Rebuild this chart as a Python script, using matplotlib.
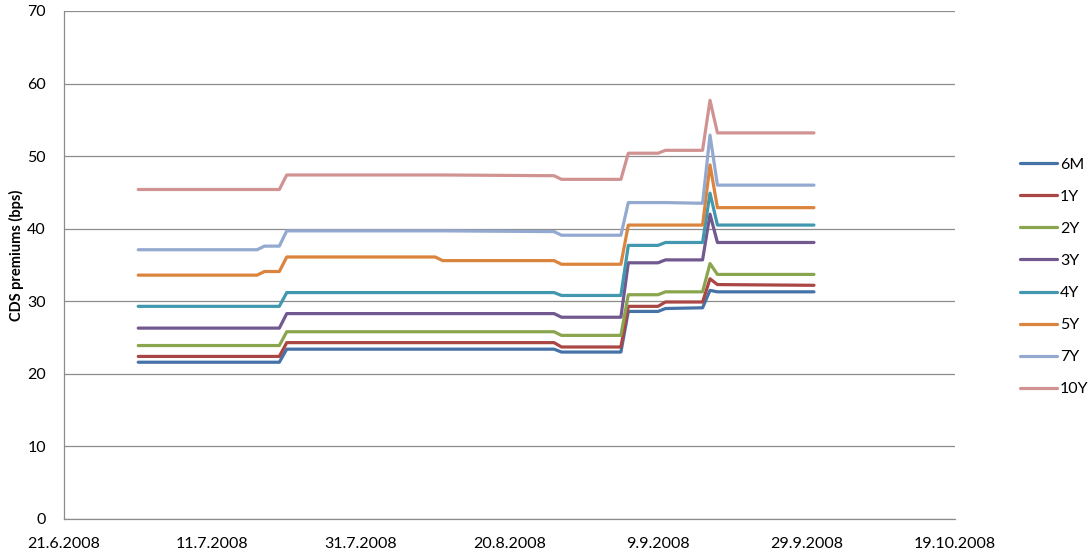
import matplotlib
matplotlib.use('Agg')
import matplotlib.pyplot as plt
from datetime import datetime

# observation dates where the curves change level (2008)
dates = ['1.7', '17.7', '18.7', '20.7', '21.7', '10.8', '11.8', '26.8', '27.8',
         '4.9', '5.9', '9.9', '10.9', '15.9', '16.9', '17.9', '30.9']

s6m = [21.6, 21.6, 21.6, 21.6, 23.4, 23.4, 23.4, 23.4, 23.0, 23.0, 28.6, 28.6, 29.0, 29.1, 31.5, 31.3, 31.3]
s1y = [22.4, 22.4, 22.4, 22.4, 24.3, 24.3, 24.3, 24.3, 23.7, 23.7, 29.3, 29.3, 29.9, 29.9, 33.1, 32.3, 32.2]
s2y = [23.9, 23.9, 23.9, 23.9, 25.8, 25.8, 25.8, 25.8, 25.3, 25.3, 30.9, 30.9, 31.3, 31.3, 35.2, 33.7, 33.7]
s3y = [26.3, 26.3, 26.3, 26.3, 28.3, 28.3, 28.3, 28.3, 27.8, 27.8, 35.3, 35.3, 35.7, 35.7, 42.0, 38.1, 38.1]
s4y = [29.3, 29.3, 29.3, 29.3, 31.2, 31.2, 31.2, 31.2, 30.8, 30.8, 37.7, 37.7, 38.1, 38.1, 44.9, 40.5, 40.5]
s5y = [33.6, 33.6, 34.1, 34.1, 36.1, 36.1, 35.6, 35.6, 35.1, 35.1, 40.5, 40.5, 40.5, 40.5, 48.8, 42.9, 42.9]
s7y = [37.1, 37.1, 37.6, 37.6, 39.7, 39.7, 39.7, 39.6, 39.1, 39.1, 43.6, 43.6, 43.6, 43.5, 52.9, 46.0, 46.0]
s10y = [45.4, 45.4, 45.4, 45.4, 47.4, 47.4, 47.4, 47.3, 46.8, 46.8, 50.4, 50.4, 50.8, 50.8, 57.7, 53.2, 53.2]

labels = ['6M', '1Y', '2Y', '3Y', '4Y', '5Y', '7Y', '10Y']
colors = ['#4572A7', '#AA4643', '#89A54E', '#71588F', '#4198AF', '#DB843D', '#93A9CF', '#D19392']
x_ticks = ['21.6.2008', '11.7.2008', '31.7.2008', '20.8.2008', '9.9.2008', '29.9.2008', '19.10.2008']

plt.rcParams['font.family'] = ['Lato', 'DejaVu Sans']

x = [datetime.strptime(d + '.2008', '%d.%m.%Y') for d in dates]
ticks = [datetime.strptime(t, '%d.%m.%Y') for t in x_ticks]

fig = plt.figure(figsize=(10.88, 5.54), dpi=100)
ax = fig.add_axes([0.0588, 0.0632, 0.8190, 0.9170])

for series, lab, col in zip([s6m, s1y, s2y, s3y, s4y, s5y, s7y, s10y], labels, colors):
    ax.plot(x, series, color=col, lw=2.3, label=lab, solid_joinstyle='round', solid_capstyle='round')

ax.set_xlim(ticks[0], ticks[-1])
ax.set_ylim(0, 70)
ax.set_yticks(range(0, 71, 10))
ax.set_xticks(ticks)
ax.set_xticklabels(x_ticks)
ax.grid(axis='y', color='#8c8c8c', lw=0.9)
ax.set_axisbelow(True)
for s in ['top', 'right']:
    ax.spines[s].set_visible(False)
for s in ['left', 'bottom']:
    ax.spines[s].set_color('#8c8c8c')
    ax.spines[s].set_linewidth(0.9)
ax.tick_params(axis='both', length=0, labelsize=11.5, colors='black')
ax.tick_params(axis='y', pad=13)
ax.tick_params(axis='x', pad=13)

ax.set_ylabel('CDS premiums (bps)', fontsize=10.5, fontweight='bold')
ax.yaxis.set_label_coords(-0.045, 0.52)

fig.legend(loc='center left', bbox_to_anchor=(1012 / 1088, 0.5), frameon=False,
           fontsize=11.5, handlelength=2.3, handletextpad=0.2, labelspacing=1.12, borderpad=0)

fig.savefig('out.png', dpi=100)
